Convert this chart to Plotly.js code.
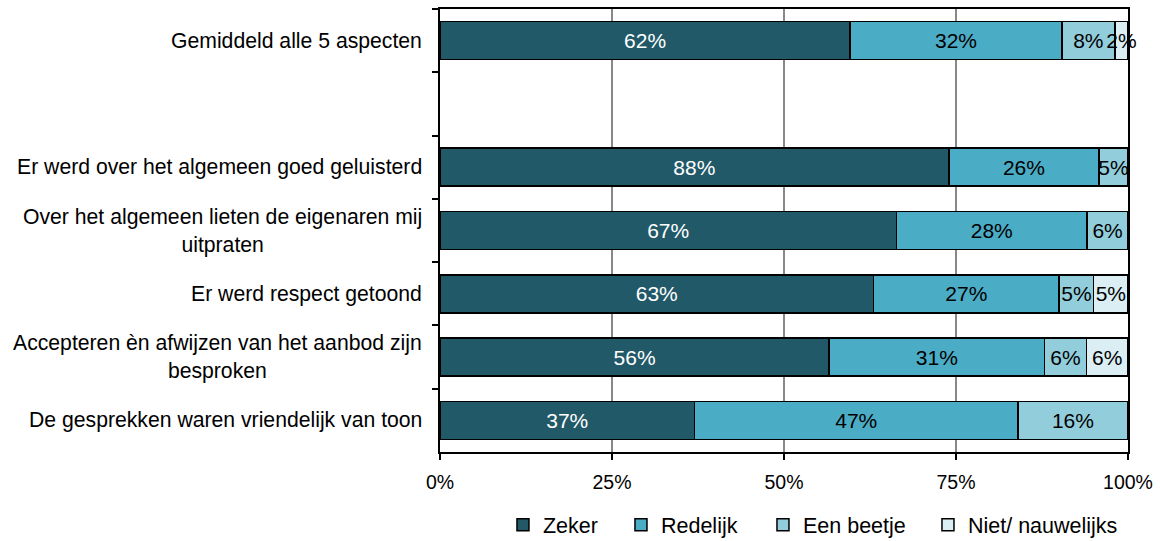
<!DOCTYPE html>
<html>
<head>
<meta charset="utf-8">
<script src="https://cdn.plot.ly/plotly-3.0.1.min.js"></script>
<style>html,body{margin:0;padding:0;background:#fff;}#chart{width:1160px;height:541px;}</style>
</head>
<body>
<div id="chart"></div>
<script>
// Categories (top to bottom); ' ' is the empty spacer row
const categories = [
  'Gemiddeld alle 5 aspecten',
  ' ',
  'Er werd over het algemeen goed geluisterd',
  'Over het algemeen lieten de eigenaren mij uitpraten',
  'Er werd respect getoond',
  'Accepteren èn afwijzen van het aanbod zijn besproken',
  'De gesprekken waren vriendelijk van toon'
];
const categoryLabels = [
  'Gemiddeld alle 5 aspecten',
  '',
  'Er werd over het algemeen goed geluisterd',
  'Over het algemeen lieten de eigenaren mij<br>uitpraten',
  'Er werd respect getoond',
  'Accepteren èn afwijzen van het aanbod zijn<br>besproken',
  'De gesprekken waren vriendelijk van toon'
];
const seriesNames = ['Zeker', 'Redelijk', 'Een beetje', 'Niet/ nauwelijks'];
const zeker    = [62, null, 88, 67, 63, 56, 37];
const redelijk = [32, null, 26, 28, 27, 31, 47];
const beetje   = [8,  null, 5,  6,  5,  6,  16];
const niet     = [2,  null, null, null, 5, 6, null];
const xTickVals = [0, 25, 50, 75, 100];
const xTickText = ['0%', '25%', '50%', '75%', '100%'];

const colors = ['#215968', '#4bacc6', '#92cddc', '#daeef3'];
const textColors = ['#ffffff', '#000000', '#000000', '#000000'];
const FONT = 'Arial, "Liberation Sans", sans-serif';
const legendWidths = [73, 97, 120, 150];

const series = [zeker, redelijk, beetje, niet];
const traces = series.map((vals, i) => ({
  type: 'bar',
  orientation: 'h',
  name: seriesNames[i],
  y: categories,
  x: vals,
  text: vals.map(v => v == null ? '' : v + '%'),
  textposition: 'inside',
  insidetextanchor: 'middle',
  constraintext: 'none',
  textangle: 0,
  cliponaxis: false,
  legendwidth: legendWidths[i],
  textfont: {family: FONT, size: 21, color: textColors[i]},
  marker: {color: colors[i], line: {color: '#000000', width: 1.5}},
  hoverinfo: 'skip'
}));

const annotations = categories.map((c, i) => ({
  xref: 'paper', x: 0, xanchor: 'right', xshift: -16,
  yref: 'y', y: c, yanchor: 'middle',
  text: categoryLabels[i], showarrow: false, align: 'center',
  font: {family: FONT, size: 21.2, color: '#000000'}
}));

const layout = {
  width: 1160, height: 541,
  margin: {l: 440, r: 32, t: 9, b: 89},
  paper_bgcolor: '#ffffff', plot_bgcolor: '#ffffff',
  barmode: 'stack', barnorm: 'percent', bargap: 0.4,
  font: {family: FONT, size: 20, color: '#000000'},
  showlegend: true,
  legend: {
    orientation: 'h', xref: 'container', x: 0.4336, xanchor: 'left',
    yref: 'container', y: 0.03, yanchor: 'middle',
    traceorder: 'normal', font: {family: FONT, size: 21.5, color: '#000000'},
    itemwidth: 30
  },
  xaxis: {
    range: [0, 100.0001], tickvals: xTickVals, ticktext: xTickText,
    showgrid: true, gridcolor: '#888888', gridwidth: 1.5,
    showline: true, linecolor: '#000000', linewidth: 2, mirror: true,
    ticks: 'outside', ticklen: 6, tickwidth: 2, tickcolor: '#000000',
    ticklabelstandoff: 6,
    tickfont: {family: FONT, size: 19.5, color: '#000000'},
    zeroline: false, fixedrange: true
  },
  yaxis: {
    type: 'category', categoryorder: 'array', categoryarray: categories,
    autorange: 'reversed', showticklabels: false,
    tickson: 'boundaries', ticks: 'outside', ticklen: 6, tickwidth: 2, tickcolor: '#000000',
    showline: true, linecolor: '#000000', linewidth: 2, mirror: true,
    showgrid: false, zeroline: false, fixedrange: true
  },
  annotations: annotations
};

Plotly.newPlot('chart', traces, layout, {displayModeBar: false, staticPlot: true});
</script>
</body>
</html>
